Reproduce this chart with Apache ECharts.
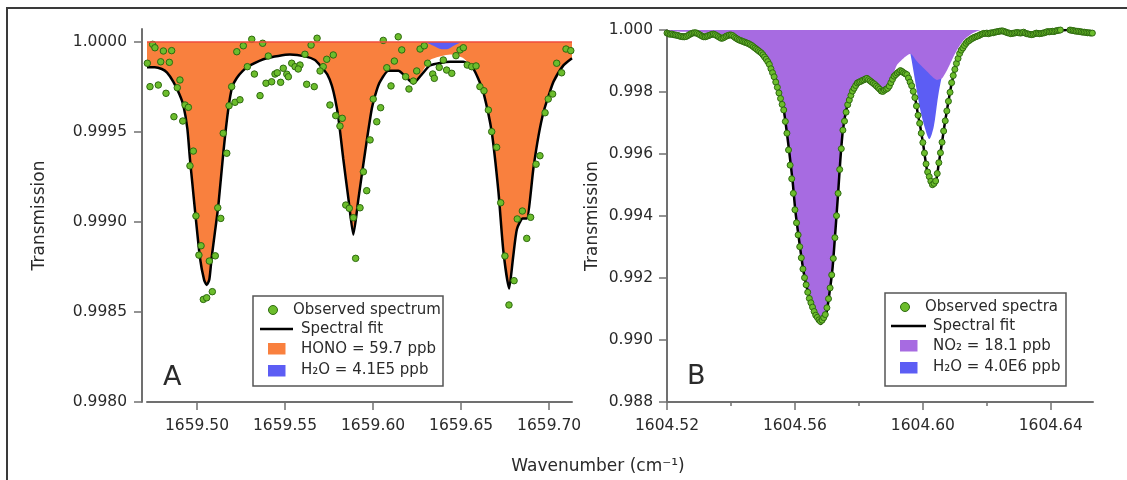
<!DOCTYPE html>
<html><head><meta charset="utf-8">
<script src="https://cdn.jsdelivr.net/npm/echarts@6/dist/echarts.min.js"></script>
<style>html,body{margin:0;padding:0;background:#fff}#c{width:1127px;height:480px}</style>
</head><body><div id="c"></div>
<script>
// ---------- tick labels ----------
const xTicksA = [1659.50, 1659.55, 1659.60, 1659.65, 1659.70];
const yTicksA = [0.9980, 0.9985, 0.9990, 0.9995, 1.0000];
const xTicksB = [1604.52, 1604.56, 1604.60, 1604.64];
const xMinorB = [1604.54, 1604.58, 1604.62];

// ---------- panel A ----------
const fitA = [[1659.4716,0.99986],[1659.4760,0.99986],[1659.4800,0.99985],[1659.4830,0.99983],[1659.4865,0.99978],[1659.4900,0.99971],[1659.4922,0.99965],[1659.4945,0.99952],[1659.4960,0.99935],[1659.4975,0.99920],[1659.4989,0.99906],[1659.5017,0.99880],[1659.5040,0.99868],[1659.5055,0.99865],[1659.5070,0.99868],[1659.5083,0.99880],[1659.5100,0.99893],[1659.5121,0.99909],[1659.5150,0.99939],[1659.5178,0.99963],[1659.5200,0.99975],[1659.5226,0.99980],[1659.5260,0.99984],[1659.5301,0.99987],[1659.5396,0.99991],[1659.5528,0.99993],[1659.5614,0.99992],[1659.5670,0.99990],[1659.5708,0.99986],[1659.5740,0.99982],[1659.5765,0.99976],[1659.5785,0.99968],[1659.5803,0.99958],[1659.5831,0.99935],[1659.5860,0.99913],[1659.5888,0.99893],[1659.5917,0.99913],[1659.5955,0.99939],[1659.5993,0.99963],[1659.6020,0.99973],[1659.6040,0.99978],[1659.6087,0.99984],[1659.6144,0.99984],[1659.6182,0.99981],[1659.6229,0.99977],[1659.6277,0.99982],[1659.6324,0.99987],[1659.6438,0.99989],[1659.6513,0.99989],[1659.6570,0.99985],[1659.6600,0.99979],[1659.6627,0.99972],[1659.6674,0.99950],[1659.6712,0.99917],[1659.6740,0.99884],[1659.6773,0.99863],[1659.6795,0.99880],[1659.6817,0.99896],[1659.6850,0.99902],[1659.6873,0.99902],[1659.6911,0.99930],[1659.6940,0.99948],[1659.6968,0.99961],[1659.7000,0.99971],[1659.7025,0.99978],[1659.7081,0.99987],[1659.7130,0.99991]];
const honoA = [[1659.4716,0.99986],[1659.4760,0.99986],[1659.4800,0.99985],[1659.4830,0.99983],[1659.4865,0.99978],[1659.4900,0.99971],[1659.4922,0.99965],[1659.4945,0.99952],[1659.4960,0.99935],[1659.4975,0.99920],[1659.4989,0.99906],[1659.5017,0.99880],[1659.5040,0.99868],[1659.5055,0.99865],[1659.5070,0.99868],[1659.5083,0.99880],[1659.5100,0.99893],[1659.5121,0.99909],[1659.5150,0.99939],[1659.5178,0.99963],[1659.5200,0.99975],[1659.5226,0.99980],[1659.5260,0.99984],[1659.5301,0.99987],[1659.5396,0.99991],[1659.5528,0.99993],[1659.5614,0.99992],[1659.5670,0.99990],[1659.5708,0.99986],[1659.5740,0.99982],[1659.5765,0.99976],[1659.5785,0.99968],[1659.5803,0.99958],[1659.5831,0.99935],[1659.5860,0.99913],[1659.5888,0.99893],[1659.5917,0.99913],[1659.5955,0.99939],[1659.5993,0.99963],[1659.6020,0.99973],[1659.6040,0.99978],[1659.6087,0.99984],[1659.6144,0.99984],[1659.6182,0.99981],[1659.6229,0.99977],[1659.6277,0.99983],[1659.6324,0.99990],[1659.6438,0.99993],[1659.6513,0.99991],[1659.6570,0.99985],[1659.6600,0.99979],[1659.6627,0.99972],[1659.6674,0.99950],[1659.6712,0.99917],[1659.6740,0.99884],[1659.6773,0.99863],[1659.6795,0.99880],[1659.6817,0.99896],[1659.6850,0.99902],[1659.6873,0.99902],[1659.6911,0.99930],[1659.6940,0.99948],[1659.6968,0.99961],[1659.7000,0.99971],[1659.7025,0.99978],[1659.7081,0.99987],[1659.7130,0.99991]];
const h2oA = [[1659.6300,1.00000],[1659.6340,0.99998],[1659.6390,0.99996],[1659.6420,0.99996],[1659.6460,0.99998],[1659.6500,1.00000]];
const obsA = [[1659.4718,0.999882],[1659.4748,0.999987],[1659.4761,0.999968],[1659.4794,0.999890],[1659.4809,0.999950],[1659.4843,0.999887],[1659.4856,0.999952],[1659.4733,0.999752],[1659.4780,0.999761],[1659.4824,0.999715],[1659.4869,0.999585],[1659.4888,0.999746],[1659.4903,0.999789],[1659.4919,0.999561],[1659.4932,0.999650],[1659.4951,0.999637],[1659.4979,0.999394],[1659.4960,0.999312],[1659.4994,0.999034],[1659.5023,0.998868],[1659.5011,0.998816],[1659.5070,0.998783],[1659.5104,0.998812],[1659.5118,0.999079],[1659.5135,0.999020],[1659.5036,0.998570],[1659.5055,0.998579],[1659.5087,0.998613],[1659.5149,0.999493],[1659.5169,0.999382],[1659.5182,0.999646],[1659.5197,0.999752],[1659.5216,0.999665],[1659.5244,0.999679],[1659.5226,0.999946],[1659.5263,0.999979],[1659.5311,1.000015],[1659.5373,0.999993],[1659.5286,0.999863],[1659.5326,0.999822],[1659.5358,0.999702],[1659.5405,0.999922],[1659.5392,0.999771],[1659.5424,0.999779],[1659.5443,0.999822],[1659.5456,0.999829],[1659.5475,0.999776],[1659.5490,0.999854],[1659.5510,0.999821],[1659.5538,0.999882],[1659.5557,0.999863],[1659.5585,0.999872],[1659.5575,0.999850],[1659.5519,0.999807],[1659.5623,0.999765],[1659.5666,0.999752],[1659.5648,0.999983],[1659.5682,1.000021],[1659.5613,0.999932],[1659.5737,0.999904],[1659.5774,0.999928],[1659.5717,0.999863],[1659.5699,0.999839],[1659.5755,0.999650],[1659.5788,0.999591],[1659.5825,0.999576],[1659.5812,0.999533],[1659.5845,0.999094],[1659.5865,0.999076],[1659.5888,0.999024],[1659.5926,0.999079],[1659.5901,0.998798],[1659.5945,0.999279],[1659.5964,0.999174],[1659.5983,0.999456],[1659.6001,0.999683],[1659.6021,0.999557],[1659.6043,0.999635],[1659.6058,1.000009],[1659.6102,0.999756],[1659.6078,0.999857],[1659.6121,0.999894],[1659.6143,1.000029],[1659.6163,0.999956],[1659.6185,0.999807],[1659.6204,0.999739],[1659.6229,0.999783],[1659.6248,0.999839],[1659.6267,0.999961],[1659.6291,0.999979],[1659.6310,0.999882],[1659.6339,0.999822],[1659.6348,0.999798],[1659.6376,0.999859],[1659.6399,0.999900],[1659.6418,0.999844],[1659.6447,0.999826],[1659.6471,0.999924],[1659.6494,0.999956],[1659.6513,0.999968],[1659.6535,0.999872],[1659.6560,0.999863],[1659.6585,0.999867],[1659.6607,0.999752],[1659.6630,0.999729],[1659.6655,0.999622],[1659.6674,0.999502],[1659.6702,0.999415],[1659.6725,0.999107],[1659.6749,0.998811],[1659.6801,0.998674],[1659.6772,0.998539],[1659.6819,0.999017],[1659.6848,0.999061],[1659.6895,0.999026],[1659.6873,0.998909],[1659.6926,0.999321],[1659.6948,0.999368],[1659.6977,0.999607],[1659.6995,0.999683],[1659.7020,0.999711],[1659.7043,0.999882],[1659.7071,0.999829],[1659.7096,0.999961],[1659.7123,0.999952]];

// ---------- panel B ----------
const fitB = [[1604.5200,0.99990],[1604.5250,0.99985],[1604.5300,0.99984],[1604.5350,0.99982],[1604.5400,0.99978],[1604.5430,0.99968],[1604.5455,0.99957],[1604.5476,0.99941],[1604.5497,0.99925],[1604.5518,0.99893],[1604.5533,0.99855],[1604.5549,0.99801],[1604.5565,0.99742],[1604.5575,0.99667],[1604.5583,0.99600],[1604.5593,0.99510],[1604.5601,0.99420],[1604.5612,0.99330],[1604.5627,0.99220],[1604.5643,0.99145],[1604.5662,0.99088],[1604.5680,0.99052],[1604.5697,0.99080],[1604.5708,0.99151],[1604.5718,0.99236],[1604.5726,0.99344],[1604.5735,0.99473],[1604.5742,0.99581],[1604.5750,0.99677],[1604.5763,0.99753],[1604.5779,0.99801],[1604.5794,0.99828],[1604.5815,0.99839],[1604.5825,0.99842],[1604.5851,0.99823],[1604.5872,0.99803],[1604.5893,0.99815],[1604.5909,0.99849],[1604.5930,0.99866],[1604.5951,0.99855],[1604.5966,0.99817],[1604.5977,0.99774],[1604.5984,0.99731],[1604.5992,0.99688],[1604.6002,0.99624],[1604.6013,0.99548],[1604.6029,0.99496],[1604.6042,0.99516],[1604.6049,0.99565],[1604.6058,0.99624],[1604.6067,0.99688],[1604.6078,0.99758],[1604.6088,0.99817],[1604.6102,0.99882],[1604.6117,0.99930],[1604.6138,0.99962],[1604.6164,0.99978],[1604.6190,0.99988],[1604.6250,0.99993],[1604.6300,0.99991],[1604.6350,0.99988],[1604.6400,0.99993],[1604.6450,1.00000],[1604.6500,0.99995],[1604.6530,0.99990]];
const no2B = [[1604.5200,0.99995],[1604.5300,0.99992],[1604.5380,0.99985],[1604.5430,0.99970],[1604.5455,0.99959],[1604.5476,0.99943],[1604.5497,0.99926],[1604.5518,0.99893],[1604.5533,0.99855],[1604.5549,0.99801],[1604.5565,0.99742],[1604.5575,0.99667],[1604.5583,0.99600],[1604.5593,0.99510],[1604.5601,0.99420],[1604.5612,0.99330],[1604.5627,0.99220],[1604.5643,0.99145],[1604.5662,0.99088],[1604.5680,0.99052],[1604.5697,0.99080],[1604.5708,0.99151],[1604.5718,0.99236],[1604.5726,0.99344],[1604.5735,0.99473],[1604.5742,0.99581],[1604.5750,0.99677],[1604.5763,0.99753],[1604.5779,0.99801],[1604.5794,0.99828],[1604.5815,0.99839],[1604.5825,0.99842],[1604.5851,0.99823],[1604.5872,0.99803],[1604.5893,0.99815],[1604.5905,0.99850],[1604.5919,0.99887],[1604.5940,0.99909],[1604.5961,0.99923],[1604.5982,0.99898],[1604.6013,0.99866],[1604.6044,0.99839],[1604.6060,0.99844],[1604.6076,0.99871],[1604.6091,0.99903],[1604.6107,0.99936],[1604.6128,0.99968],[1604.6154,0.99989],[1604.6180,1.00000]];
const h2oB = [[1604.5850,1.00000],[1604.5920,0.99985],[1604.5950,0.99960],[1604.5961,0.99923],[1604.5977,0.99828],[1604.5992,0.99742],[1604.6008,0.99678],[1604.6020,0.99648],[1604.6034,0.99688],[1604.6046,0.99774],[1604.6055,0.99828],[1604.6070,0.99895],[1604.6090,0.99955],[1604.6120,0.99990],[1604.6150,1.00000]];
const obsB = [[1604.5200,0.99990],[1604.5205,0.99988],[1604.5210,0.99986],[1604.5215,0.99987],[1604.5220,0.99985],[1604.5225,0.99984],[1604.5230,0.99983],[1604.5235,0.99982],[1604.5240,0.99980],[1604.5245,0.99979],[1604.5250,0.99978],[1604.5255,0.99978],[1604.5260,0.99979],[1604.5265,0.99982],[1604.5270,0.99985],[1604.5275,0.99988],[1604.5280,0.99990],[1604.5285,0.99991],[1604.5290,0.99991],[1604.5295,0.99989],[1604.5300,0.99986],[1604.5305,0.99983],[1604.5310,0.99980],[1604.5315,0.99978],[1604.5320,0.99978],[1604.5325,0.99980],[1604.5330,0.99982],[1604.5335,0.99984],[1604.5340,0.99986],[1604.5345,0.99987],[1604.5350,0.99985],[1604.5355,0.99982],[1604.5360,0.99979],[1604.5365,0.99976],[1604.5370,0.99973],[1604.5375,0.99974],[1604.5380,0.99977],[1604.5385,0.99980],[1604.5390,0.99982],[1604.5395,0.99984],[1604.5400,0.99984],[1604.5405,0.99982],[1604.5410,0.99978],[1604.5415,0.99974],[1604.5420,0.99971],[1604.5425,0.99968],[1604.5430,0.99966],[1604.5435,0.99964],[1604.5440,0.99962],[1604.5445,0.99960],[1604.5450,0.99958],[1604.5455,0.99956],[1604.5460,0.99953],[1604.5465,0.99950],[1604.5470,0.99946],[1604.5475,0.99942],[1604.5480,0.99938],[1604.5485,0.99934],[1604.5490,0.99930],[1604.5495,0.99926],[1604.5500,0.99920],[1604.5505,0.99913],[1604.5510,0.99906],[1604.5515,0.99898],[1604.5520,0.99889],[1604.5525,0.99875],[1604.5530,0.99862],[1604.5535,0.99849],[1604.5540,0.99832],[1604.5545,0.99815],[1604.5550,0.99797],[1604.5555,0.99779],[1604.5560,0.99760],[1604.5565,0.99742],[1604.5570,0.99705],[1604.5575,0.99667],[1604.5580,0.99613],[1604.5585,0.99564],[1604.5590,0.99520],[1604.5595,0.99473],[1604.5600,0.99420],[1604.5605,0.99378],[1604.5610,0.99339],[1604.5615,0.99301],[1604.5620,0.99265],[1604.5625,0.99229],[1604.5630,0.99201],[1604.5635,0.99178],[1604.5640,0.99154],[1604.5645,0.99134],[1604.5650,0.99120],[1604.5655,0.99106],[1604.5660,0.99092],[1604.5665,0.99080],[1604.5670,0.99073],[1604.5675,0.99065],[1604.5680,0.99060],[1604.5685,0.99064],[1604.5690,0.99072],[1604.5695,0.99082],[1604.5700,0.99104],[1604.5705,0.99133],[1604.5710,0.99168],[1604.5715,0.99210],[1604.5720,0.99263],[1604.5725,0.99330],[1604.5730,0.99401],[1604.5735,0.99473],[1604.5740,0.99550],[1604.5745,0.99617],[1604.5750,0.99677],[1604.5755,0.99706],[1604.5760,0.99735],[1604.5765,0.99759],[1604.5770,0.99774],[1604.5775,0.99789],[1604.5780,0.99803],[1604.5785,0.99812],[1604.5790,0.99821],[1604.5795,0.99829],[1604.5800,0.99832],[1604.5805,0.99834],[1604.5810,0.99837],[1604.5815,0.99839],[1604.5820,0.99842],[1604.5825,0.99844],[1604.5830,0.99840],[1604.5835,0.99836],[1604.5840,0.99832],[1604.5845,0.99828],[1604.5850,0.99824],[1604.5855,0.99819],[1604.5860,0.99814],[1604.5865,0.99809],[1604.5870,0.99803],[1604.5875,0.99802],[1604.5880,0.99806],[1604.5885,0.99809],[1604.5890,0.99812],[1604.5895,0.99819],[1604.5900,0.99830],[1604.5905,0.99841],[1604.5910,0.99851],[1604.5915,0.99856],[1604.5920,0.99861],[1604.5925,0.99865],[1604.5930,0.99869],[1604.5935,0.99866],[1604.5940,0.99862],[1604.5945,0.99859],[1604.5950,0.99856],[1604.5955,0.99845],[1604.5960,0.99832],[1604.5965,0.99820],[1604.5970,0.99802],[1604.5975,0.99782],[1604.5980,0.99755],[1604.5985,0.99725],[1604.5990,0.99699],[1604.5995,0.99667],[1604.6000,0.99637],[1604.6005,0.99603],[1604.6010,0.99568],[1604.6015,0.99542],[1604.6020,0.99527],[1604.6025,0.99512],[1604.6030,0.99501],[1604.6035,0.99505],[1604.6040,0.99513],[1604.6045,0.99537],[1604.6050,0.99572],[1604.6055,0.99604],[1604.6060,0.99638],[1604.6065,0.99674],[1604.6070,0.99707],[1604.6075,0.99739],[1604.6080,0.99770],[1604.6085,0.99799],[1604.6090,0.99830],[1604.6095,0.99853],[1604.6100,0.99873],[1604.6105,0.99892],[1604.6110,0.99908],[1604.6115,0.99924],[1604.6120,0.99935],[1604.6125,0.99942],[1604.6130,0.99950],[1604.6135,0.99957],[1604.6140,0.99963],[1604.6145,0.99966],[1604.6150,0.99970],[1604.6155,0.99973],[1604.6160,0.99976],[1604.6165,0.99978],[1604.6170,0.99980],[1604.6175,0.99982],[1604.6180,0.99985],[1604.6185,0.99987],[1604.6190,0.99989],[1604.6195,0.99989],[1604.6200,0.99990],[1604.6205,0.99988],[1604.6210,0.99990],[1604.6215,0.99991],[1604.6220,0.99991],[1604.6225,0.99993],[1604.6230,0.99994],[1604.6235,0.99995],[1604.6240,0.99996],[1604.6245,0.99997],[1604.6250,0.99997],[1604.6255,0.99995],[1604.6260,0.99993],[1604.6265,0.99991],[1604.6270,0.99990],[1604.6275,0.99988],[1604.6280,0.99989],[1604.6285,0.99990],[1604.6290,0.99991],[1604.6295,0.99992],[1604.6300,0.99991],[1604.6305,0.99990],[1604.6310,0.99991],[1604.6315,0.99993],[1604.6320,0.99990],[1604.6325,0.99988],[1604.6330,0.99987],[1604.6335,0.99986],[1604.6340,0.99985],[1604.6345,0.99986],[1604.6350,0.99988],[1604.6355,0.99990],[1604.6360,0.99989],[1604.6365,0.99988],[1604.6370,0.99989],[1604.6375,0.99990],[1604.6380,0.99991],[1604.6385,0.99993],[1604.6390,0.99995],[1604.6395,0.99994],[1604.6400,0.99995],[1604.6405,0.99996],[1604.6410,0.99995],[1604.6415,0.99997],[1604.6420,0.99998],[1604.6425,0.99999],[1604.6430,1.00000],[1604.6435,1.00001],[1604.6440,1.00002],[1604.6445,1.00002],[1604.6450,1.00001],[1604.6455,1.00002],[1604.6460,1.00000],[1604.6465,0.99999],[1604.6470,0.99998],[1604.6475,0.99997],[1604.6480,0.99996],[1604.6485,0.99996],[1604.6490,0.99995],[1604.6495,0.99994],[1604.6500,0.99993],[1604.6505,0.99993],[1604.6510,0.99992],[1604.6515,0.99991],[1604.6520,0.99991],[1604.6525,0.99990],[1604.6530,0.99990]];

// ---------- legend texts ----------
const legendA = ['Observed spectrum', 'Spectral fit', 'HONO = 59.7 ppb', 'H\u2082O = 4.1E5 ppb'];
const legendB = ['Observed spectra', 'Spectral fit', 'NO\u2082 = 18.1 ppb', 'H\u2082O = 4.0E6 ppb'];

const FONT = 'DejaVu Sans';
const TXT = '#2a2a2a';
const AX = '#707070';
const ORANGE = '#F9803E';
const BLUE = '#5C5DF4';
const PURPLE = '#A76BE1';
const GREEN = '#6CBD2C';
const GREEN_D = '#2E6A10';
const RED = '#EF4B3C';

const chart = echarts.init(document.getElementById('c'), null, {renderer: 'canvas'});

function xAxisCfg(grid, min, max, ticks, fmt) {
  return {
    gridIndex: grid, type: 'value', min: min, max: max, position: 'bottom',
    axisLine: {show: true, onZero: false, lineStyle: {color: AX, width: 2}},
    axisTick: {show: true, length: 8, customValues: ticks, lineStyle: {color: AX, width: 1.5}},
    axisLabel: {customValues: ticks, formatter: v => v.toFixed(fmt), margin: 16,
      color: TXT, fontSize: 15.5, fontFamily: FONT},
    splitLine: {show: false}
  };
}

const txt = (x, y, s, size, extra) => Object.assign({
  type: 'text', z: 100, silent: true,
  style: {x: x, y: y, text: s, fontSize: size || 15, fontFamily: FONT, fill: TXT,
    align: 'left', verticalAlign: 'middle'}
}, extra || {});

function legendGroup(bx, by, bw, bh, items, col3, col4, cx, lx1, lx2, rx, tx0, tx) {
  return [
    {type: 'rect', z: 90, silent: true, shape: {x: bx, y: by, width: bw, height: bh},
      style: {fill: '#fff', stroke: '#555', lineWidth: 1.5}},
    {type: 'circle', z: 100, silent: true, shape: {cx: cx, cy: by + 14, r: 4.5},
      style: {fill: GREEN, stroke: GREEN_D, lineWidth: 1}},
    txt(tx0, by + 14, items[0]),
    {type: 'line', z: 100, silent: true, shape: {x1: lx1, y1: by + 33, x2: lx2, y2: by + 33},
      style: {stroke: '#000', lineWidth: 2.5}},
    txt(tx, by + 33, items[1]),
    {type: 'rect', z: 100, silent: true, shape: {x: rx, y: by + 47, width: 17.5, height: 11.5},
      style: {fill: col3}},
    txt(tx, by + 53, items[2]),
    {type: 'rect', z: 100, silent: true, shape: {x: rx, y: by + 69, width: 17.5, height: 11.5},
      style: {fill: col4}},
    txt(tx, by + 74, items[3])
  ];
}

const option = {
  animation: false,
  backgroundColor: '#fff',
  grid: [
    {left: 147, top: 29, width: 425, height: 373},
    {left: 667, top: 30, width: 426, height: 372}
  ],
  xAxis: [
    xAxisCfg(0, 1659.4716, 1659.713, xTicksA, 2),
    xAxisCfg(1, 1604.52, 1604.6532, xTicksB, 2),
    {gridIndex: 1, type: 'value', min: 1604.52, max: 1604.6532, position: 'bottom',
      axisLine: {show: false, onZero: false},
      axisTick: {show: true, length: 4, customValues: xMinorB, lineStyle: {color: AX, width: 1.5}},
      axisLabel: {show: false}, splitLine: {show: false}}
  ],
  yAxis: [
    {gridIndex: 0, type: 'value', min: 0.998, max: 1.0000722, offset: 5,
      axisLine: {show: true, onZero: false, lineStyle: {color: AX, width: 2}},
      axisTick: {show: true, length: 8, customValues: yTicksA, lineStyle: {color: AX, width: 1.5}},
      axisLabel: {customValues: yTicksA, formatter: v => v.toFixed(4), margin: 15,
        color: TXT, fontSize: 15.5, fontFamily: FONT},
      splitLine: {show: false},
      name: 'Transmission', nameLocation: 'middle', nameGap: 94,
      nameTextStyle: {fontSize: 17, fontFamily: FONT, color: TXT}},
    {gridIndex: 1, type: 'value', min: 0.988, max: 1.000, interval: 0.002,
      axisLine: {show: true, onZero: false, lineStyle: {color: AX, width: 2}},
      axisTick: {show: true, length: 8, lineStyle: {color: AX, width: 1.5}},
      axisLabel: {formatter: v => v.toFixed(3), margin: 14,
        color: TXT, fontSize: 15.5, fontFamily: FONT},
      splitLine: {show: false},
      name: 'Transmission', nameLocation: 'middle', nameGap: 66,
      nameTextStyle: {fontSize: 17, fontFamily: FONT, color: TXT}}
  ],
  series: [
    {type: 'line', name: 'HONO', xAxisIndex: 0, yAxisIndex: 0, data: honoA, symbol: 'none',
      smooth: 0.2, lineStyle: {opacity: 0}, areaStyle: {color: ORANGE, opacity: 1, origin: 1}, z: 1,
      markLine: {silent: true, symbol: 'none', label: {show: false},
        lineStyle: {color: RED, width: 1.6, type: 'solid'}, data: [{yAxis: 1}]}},
    {type: 'line', name: 'H2O A', xAxisIndex: 0, yAxisIndex: 0, data: h2oA, symbol: 'none',
      smooth: 0.3, lineStyle: {opacity: 0}, areaStyle: {color: BLUE, opacity: 1, origin: 1}, z: 2},
    {type: 'line', name: 'Fit A', xAxisIndex: 0, yAxisIndex: 0, data: fitA, symbol: 'none',
      smooth: 0.2, lineStyle: {color: '#000', width: 2.5}, z: 3},
    {type: 'scatter', name: 'Obs A', xAxisIndex: 0, yAxisIndex: 0, data: obsA, symbolSize: 6.5,
      itemStyle: {color: GREEN, borderColor: GREEN_D, borderWidth: 1, opacity: 1}, z: 4},

    {type: 'line', name: 'H2O B', xAxisIndex: 1, yAxisIndex: 1, data: h2oB, symbol: 'none',
      smooth: 0.3, lineStyle: {opacity: 0}, areaStyle: {color: BLUE, opacity: 1, origin: 1}, z: 1},
    {type: 'line', name: 'NO2 B', xAxisIndex: 1, yAxisIndex: 1, data: no2B, symbol: 'none',
      smooth: 0.2, lineStyle: {opacity: 0}, areaStyle: {color: PURPLE, opacity: 1, origin: 1}, z: 2},
    {type: 'line', name: 'Fit B', xAxisIndex: 1, yAxisIndex: 1, data: fitB, symbol: 'none',
      smooth: 0.2, lineStyle: {color: '#000', width: 2.5}, z: 3},
    {type: 'scatter', name: 'Obs B', xAxisIndex: 1, yAxisIndex: 1, data: obsB, symbolSize: 6,
      itemStyle: {color: GREEN, borderColor: GREEN_D, borderWidth: 1, opacity: 1}, z: 4}
  ],
  graphic: {elements: [].concat(
    [{type: 'polyline', z: 100, silent: true, shape: {points: [[7, 480], [7, 8], [1127, 8]]},
      style: {stroke: '#3a3a3a', lineWidth: 2, fill: null}}],
    [txt(163, 378, 'A', 27), txt(687, 377, 'B', 27)],
    [txt(598, 467, 'Wavenumber (cm\u207B\u00B9)', 17, {}) ],
    legendGroup(253, 296, 190, 90, legendA, ORANGE, BLUE, 273, 260, 293, 268, 293, 301),
    legendGroup(885, 293, 181, 93, legendB, PURPLE, BLUE, 905, 891, 926, 900, 925, 933)
  )}
};
// center the x-axis title
option.graphic.elements.forEach(e => { if (e.style && e.style.text && e.style.text.indexOf('Wavenumber') === 0) e.style.align = 'center'; });
chart.setOption(option);
</script>
</body></html>
